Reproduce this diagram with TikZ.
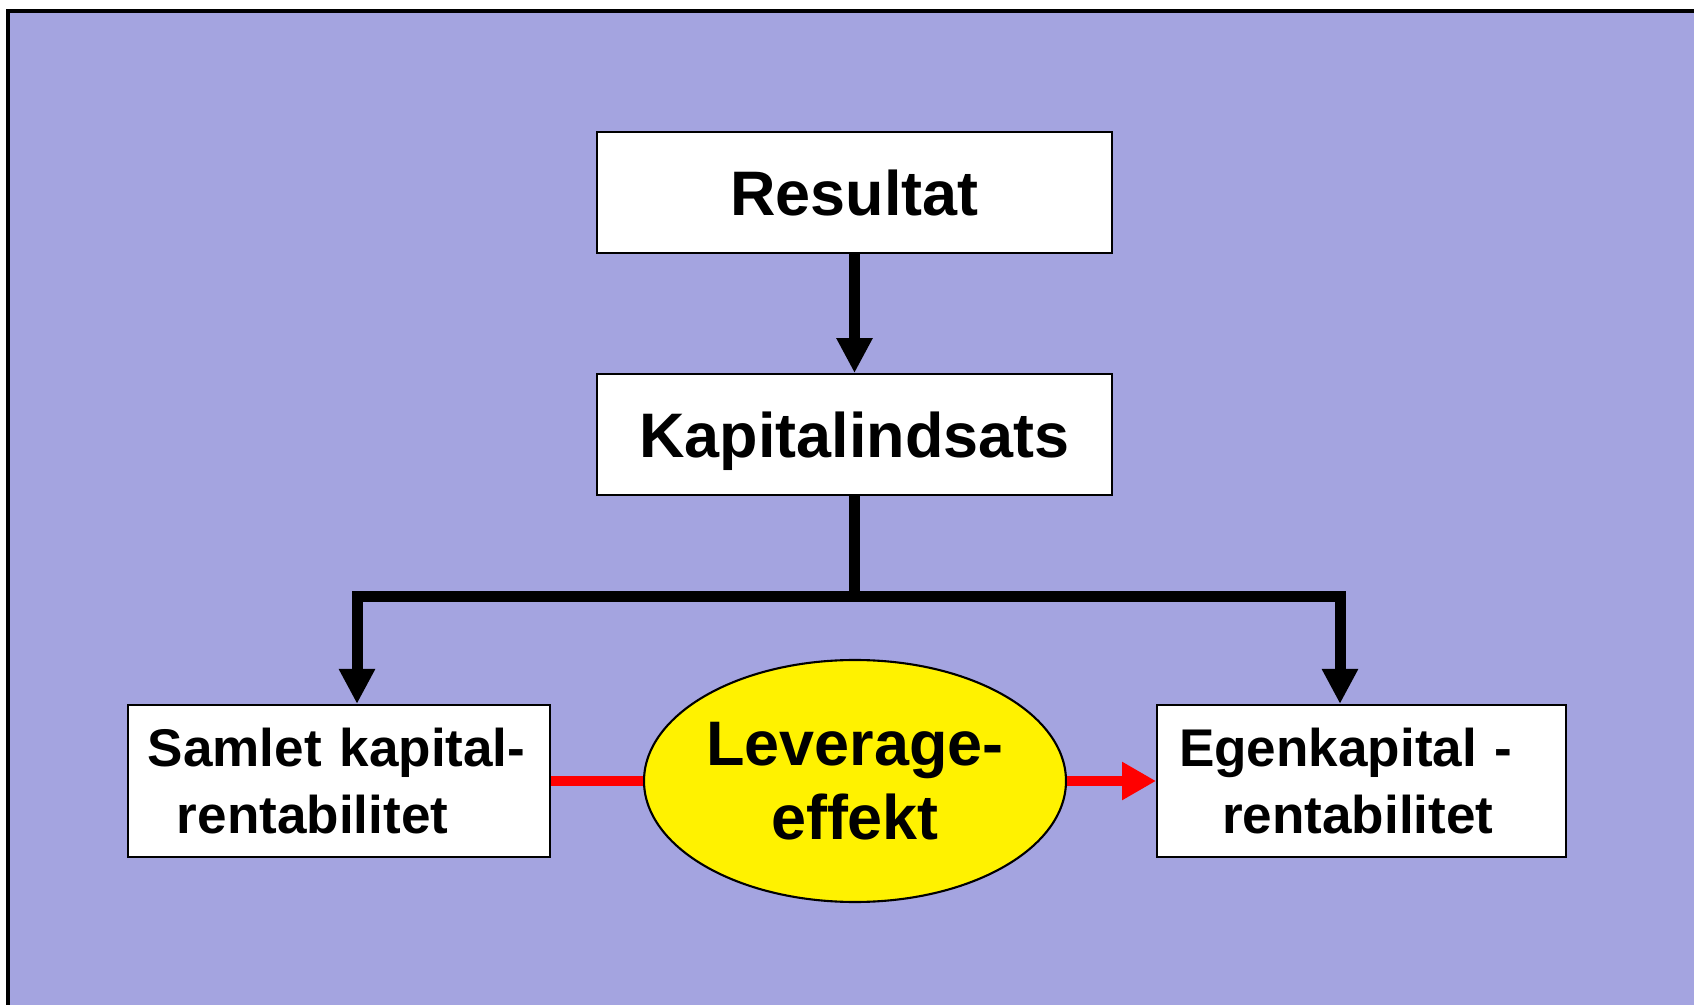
\documentclass[tikz,border=0pt]{standalone}
\usepackage{fontspec}
\setmainfont{Liberation Sans}
\usepackage{xcolor}
\usetikzlibrary{arrows.meta, positioning, shapes.geometric}

\definecolor{bgblue}{RGB}{164,164,224}

\begin{document}
\begin{tikzpicture}[
node distance=1.19cm,
box/.style={draw, line width=0.6pt, fill=white, rectangle, minimum width=5.15cm, minimum height=1.21cm, align=center, text depth=0pt, font=\bfseries\fontsize{17.9pt}{21pt}\selectfont},
sidebox/.style={draw, line width=0.6pt, fill=white, rectangle, minimum height=1.52cm, inner xsep=0.20cm, align=left, font=\bfseries\fontsize{15.1pt}{19pt}\selectfont},
oval/.style={draw, line width=0.6pt, fill=yellow, ellipse, minimum width=4.22cm, minimum height=2.42cm, inner sep=0pt, align=center, font=\bfseries\fontsize{17.9pt}{21pt}\selectfont},
link/.style={line width=0.11cm, -{Triangle[length=0.35cm, width=0.34cm]}},
redlink/.style={red, line width=0.1cm}
]

% frame and background
\useasboundingbox (0,0) rectangle (16.94,-10.05);
\fill[white] (0,0) rectangle (16.94,-10.05);
\fill[bgblue] (0.08,-0.11) rectangle (16.94,-10.05);
\draw[line width=0.9pt] (0.08,-10.05) -- (0.08,-0.11) -- (16.94,-0.11);

\node[box] (res) at (8.545,-1.925) {Resultat};

\node[box, below=of res] (kap) {Kapitalindsats};

\node[oval] (lev) at (8.55,-7.81) {Leverage-\\effekt};

\node[sidebox, text width=3.82cm, left=0.92cm of lev] (sam)
{Samlet kapital-\\\hspace*{0.29cm}rentabilitet};

\node[sidebox, text width=3.65cm, inner xsep=0.22cm, right=0.89cm of lev] (ege)
{Egenkapital -\\\hspace*{0.43cm}rentabilitet};

% branch points
\coordinate (jl) at (3.57,-5.97);
\coordinate (jr) at (13.40,-5.97);

\draw[link] (res) -- (kap);
\draw[link] (kap.south) |- (jl) -- (jl |- sam.north);
\draw[link] (kap.south) |- (jr) -- (jr |- ege.north);

\draw[redlink] (sam) -- (lev);
\draw[redlink, -{Triangle[length=0.34cm, width=0.36cm]}] (lev) -- (ege);

\end{tikzpicture}
\end{document}
